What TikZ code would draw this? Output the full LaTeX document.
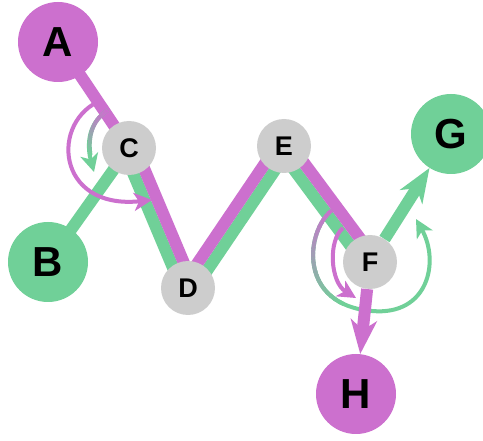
\documentclass[tikz,border=0pt]{standalone}
\usepackage{fontspec}
\setmainfont{Liberation Sans}
\usetikzlibrary{arrows.meta,backgrounds}
\definecolor{orchid}{RGB}{204,112,206}
\definecolor{mint}{RGB}{112,208,152}
\definecolor{stone}{RGB}{205,205,205}
\tikzstyle{endpt} = [circle,minimum size=80pt,inner sep=0pt,font=\fontsize{42}{42}\selectfont\bfseries]
\tikzstyle{hub} = [circle,fill=stone,minimum size=54pt,inner sep=0pt,font=\fontsize{27}{27}\selectfont\bfseries]
\tikzstyle{band} = [line width=12pt]
\tikzstyle{head} = [-{Stealth[length=34pt,width=26pt,inset=10pt]}]
\tikzstyle{turn} = [line width=4pt,-{Stealth[length=18pt,width=18pt,inset=5pt]}]

% colour running from #1 to #2 along a curve, up to time #3
\newcommand{\fadecurve}[7]{%
  \foreach \i in {0,...,23}{%
    \pgfmathsetmacro{\ta}{#3*\i/24}%
    \pgfmathsetmacro{\tb}{min(#3,#3*(\i+1.4)/24)}%
    \pgfmathtruncatemacro{\pct}{100*\i/23}%
    \colorlet{fadecol}{#2!\pct!#1}%
    \begin{pgfscope}
      \pgfsetlinewidth{4pt}%
      \pgfsetstrokecolor{fadecol}%
      \pgfpathcurvebetweentime{\ta}{\tb}{#4}{#5}{#6}{#7}%
      \pgfusepath{stroke}%
    \end{pgfscope}
  }%
}

\begin{document}
\begin{tikzpicture}[x=1pt,y=-1pt]
	\useasboundingbox (0,0) rectangle (483,441);

	%Nodes
	\node [endpt,fill=orchid] (A) at (58,42) {A};
	\node [endpt,fill=mint] (B) at (48,262) {B};
	\node [hub] (C) at (129,148) {C};
	\node [hub] (D) at (188,288) {D};
	\node [hub] (E) at (284,146) {E};
	\node [hub] (F) at (370,262) {F};
	\node [endpt,fill=mint] (G) at (451,134) {G};
	\node [endpt,fill=orchid] (H) at (356,394) {H};

	%Lines
	\begin{scope}[on background layer]
		\fill[white] (0,0) rectangle (483,441);
		\draw[band,mint] (B.center) -- (C.center);
		\draw[band,mint] ([shift={(-5.5,2.3)}]C.center) -- ([shift={(-5.5,2.3)}]D.center);
		\draw[band,mint] ([shift={(5,3.3)}]D.center) -- ([shift={(5,3.3)}]E.center);
		\draw[band,mint] ([shift={(-4.8,3.6)}]E.center) -- ([shift={(-4.8,3.6)}]F.center);
		\draw[band,orchid] (A.center) -- (C.center);
		\draw[band,orchid] ([shift={(5.5,-2.3)}]C.center) -- ([shift={(5.5,-2.3)}]D.center);
		\draw[band,orchid] ([shift={(-5,-3.3)}]D.center) -- ([shift={(-5,-3.3)}]E.center);
		\draw[band,orchid] ([shift={(4.8,-3.6)}]E.center) -- ([shift={(4.8,-3.6)}]F.center);
	\end{scope}
	\draw[band,mint,head] (F) -- (G);

	%Turns
	\draw[turn,orchid] (102,100) .. controls (50,120) and (55,210) .. (152,200);
	\draw[turn,mint] (108,110) .. controls (85,125) and (88,150) .. (94,172);
	\fadecurve{orchid}{mint}{0.75}{\pgfpointxy{108}{110}}{\pgfpointxy{85}{125}}{\pgfpointxy{88}{150}}{\pgfpointxy{94}{172}}
	\draw[turn,orchid] (343,228) .. controls (328,240) and (330,282) .. (356,298);
	\draw[turn,mint] (332,210) .. controls (305,232) and (298,305) .. (372,311) .. controls (428,316) and (440,262) .. (416,219);
	\fadecurve{orchid}{mint}{0.85}{\pgfpointxy{332}{210}}{\pgfpointxy{305}{232}}{\pgfpointxy{298}{305}}{\pgfpointxy{372}{311}}
	\draw[band,orchid,head] (F) -- (H);
\end{tikzpicture}
\end{document}
